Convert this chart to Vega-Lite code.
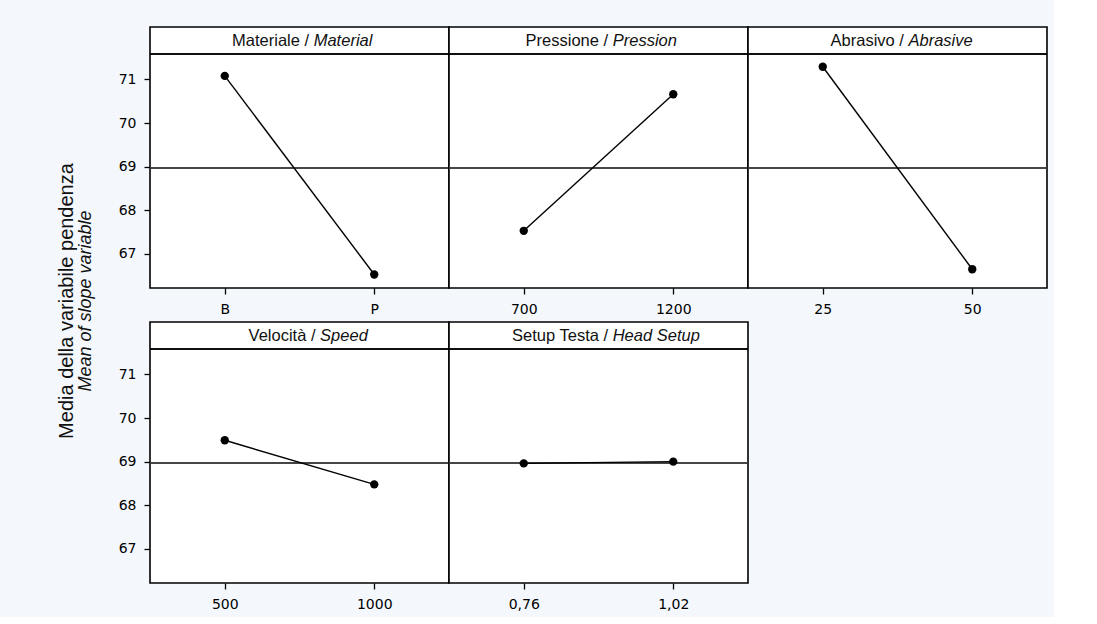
{
  "$schema": "https://vega.github.io/schema/vega-lite/v6.json",
  "background": "#f4f8fc",
  "padding": {"left": 57, "top": 26, "right": 5, "bottom": 5},
  "title": {
    "text": "Media della variabile pendenza",
    "subtitle": "Mean of slope variable",
    "orient": "left",
    "anchor": "middle",
    "dx": 18,
    "font": "Liberation Sans",
    "fontSize": 20,
    "fontWeight": "normal",
    "color": "#111",
    "subtitleFont": "Liberation Sans",
    "subtitleFontSize": 18,
    "subtitleFontStyle": "italic",
    "subtitleColor": "#111",
    "subtitlePadding": 0,
    "offset": 23
  },
  "data": {
    "values": [
      {"factor": "Materiale", "p1": "Materiale /", "p2": "Material", "level": "B", "value": 71.08, "ord": 0},
      {"factor": "Materiale", "p1": "Materiale /", "p2": "Material", "level": "P", "value": 66.53, "ord": 1},
      {"factor": "Pressione", "p1": "Pressione /", "p2": "Pression", "level": "700", "value": 67.53, "ord": 0},
      {"factor": "Pressione", "p1": "Pressione /", "p2": "Pression", "level": "1200", "value": 70.66, "ord": 1},
      {"factor": "Abrasivo", "p1": "Abrasivo /", "p2": "Abrasive", "level": "25", "value": 71.29, "ord": 0},
      {"factor": "Abrasivo", "p1": "Abrasivo /", "p2": "Abrasive", "level": "50", "value": 66.65, "ord": 1},
      {"factor": "Velocità", "p1": "Velocità /", "p2": "Speed", "level": "500", "value": 69.49, "ord": 0},
      {"factor": "Velocità", "p1": "Velocità /", "p2": "Speed", "level": "1000", "value": 68.48, "ord": 1},
      {"factor": "Setup Testa", "p1": "Setup Testa /", "p2": "Head Setup", "level": "0,76", "value": 68.96, "ord": 0},
      {"factor": "Setup Testa", "p1": "Setup Testa /", "p2": "Head Setup", "level": "1,02", "value": 69.0, "ord": 1}
    ]
  },
  "facet": {
    "field": "factor",
    "type": "nominal",
    "sort": ["Materiale", "Pressione", "Abrasivo", "Velocità", "Setup Testa"],
    "header": {"title": null, "labels": false, "labelExpr": "''", "labelFontSize": 0, "labelPadding": 0}
  },
  "columns": 3,
  "bounds": "flush",
  "spacing": {"row": 34, "column": 0},
  "resolve": {"scale": {"x": "independent"}, "axis": {"x": "independent"}},
  "spec": {
    "width": 299,
    "height": 261,
    "encoding": {
      "y": {
        "field": "value",
        "type": "quantitative",
        "scale": {"domain": [66.22, 72.2], "nice": false, "zero": false},
        "axis": {"values": [67, 68, 69, 70, 71], "title": null}
      }
    },
    "layer": [
      {
        "mark": {"type": "rule", "color": "#3a3a3a", "strokeWidth": 1.4},
        "encoding": {"y": {"datum": 68.97}}
      },
      {
        "mark": {"type": "rule", "color": "#000000", "strokeWidth": 1.5},
        "encoding": {"y": {"datum": 71.58}}
      },
      {
        "mark": {"type": "line", "color": "#000000", "strokeWidth": 1.4},
        "encoding": {
          "x": {"field": "level", "type": "nominal", "sort": null, "scale": {"type": "point", "padding": 0.5}, "axis": {"title": null, "labelAngle": 0}}
        }
      },
      {
        "mark": {"type": "point", "filled": true, "color": "#000000", "size": 70, "opacity": 1},
        "encoding": {
          "x": {"field": "level", "type": "nominal", "sort": null, "scale": {"type": "point", "padding": 0.5}, "axis": {"title": null, "labelAngle": 0}}
        }
      },
      {
        "transform": [{"filter": "datum.ord == 0"}],
        "mark": {"type": "text", "align": "right", "baseline": "middle", "font": "Liberation Sans", "fontSize": 16.5, "color": "#111", "dx": {"expr": "(length(datum.p1) - length(datum.p2)) * 3.2"}},
        "encoding": {"y": {"datum": 71.89}, "text": {"field": "p1"}}
      },
      {
        "transform": [{"filter": "datum.ord == 0"}],
        "mark": {"type": "text", "align": "left", "baseline": "middle", "font": "Liberation Sans", "fontSize": 16.5, "fontStyle": "italic", "color": "#111", "dx": {"expr": "(length(datum.p1) - length(datum.p2)) * 3.2 + 4.6"}},
        "encoding": {"y": {"datum": 71.89}, "text": {"field": "p2"}}
      }
    ]
  },
  "config": {
    "header": {"labels": false, "title": null},
    "view": {"stroke": "#000000", "strokeWidth": 1.6, "fill": "#ffffff"},
    "axis": {
      "domain": false,
      "grid": false,
      "ticks": true,
      "tickColor": "#000000",
      "tickSize": 6,
      "tickWidth": 1.3,
      "labelFont": "DejaVu Sans",
      "labelFontSize": 14,
      "labelColor": "#000000",
      "labelPadding": 8
    }
  }
}
